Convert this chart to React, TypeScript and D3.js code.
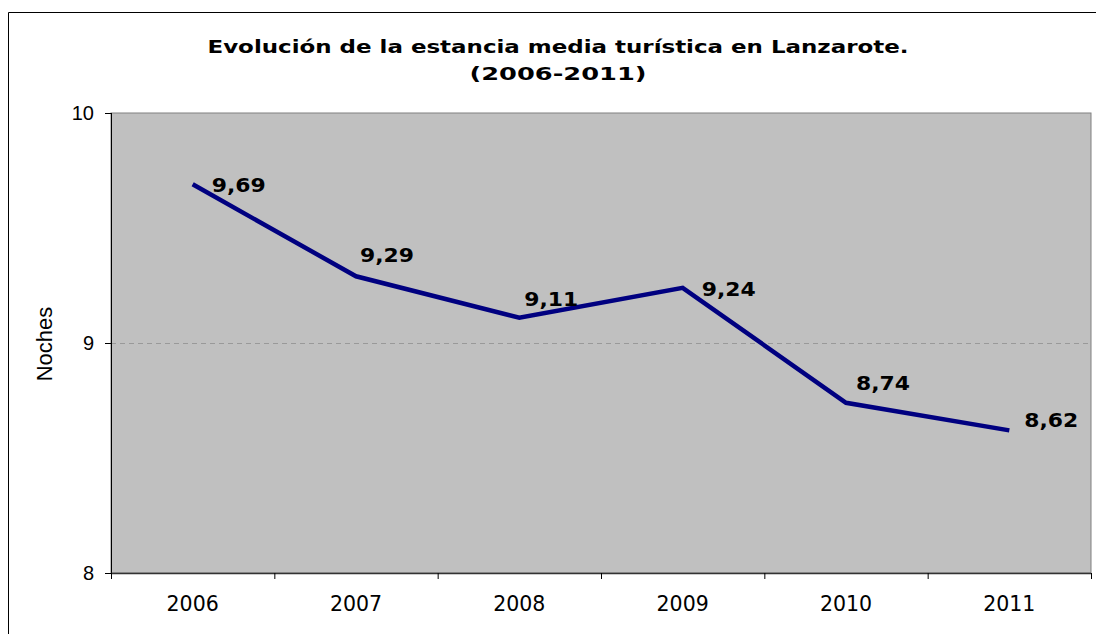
import React from "react";
import * as d3 from "d3";

const years = ["2006", "2007", "2008", "2009", "2010", "2011"];
const values = [9.69, 9.29, 9.11, 9.24, 8.74, 8.62];
const valueLabels = ["9,69", "9,29", "9,11", "9,24", "8,74", "8,62"];
const labelDx = [19, 4, 5, 19, 10, 15];
const labelDy = [8, -14, -12, 8, -13, -3];
const yTicks = [8, 9, 10];
const titleLines = ["Evolución de la estancia media turística en Lanzarote.", "(2006-2011)"];
const titleWidths = [701, 177];
const yTitle = "Noches";

export default function App() {
  const W = 1096, H = 634;
  const left = 111, right = 1091, top = 113, bottom = 573;
  const x = d3.scaleBand<string>().domain(years).range([left, right]).padding(0);
  const y = d3.scaleLinear().domain([8, 10]).range([bottom, top]);
  const cx = (yr: string) => (x(yr) as number) + x.bandwidth() / 2;
  const line = d3
    .line<number>()
    .x((_, i) => cx(years[i]))
    .y((v) => y(v));
  const boundaries = years.map((yr) => x(yr) as number).concat([right]);

  return (
    <svg
      width={W}
      height={H}
      style={{ position: "absolute", left: 0, top: 0, display: "block", background: "#fff" }}
    >
      <path d={`M8.5,${H} V12.5 H${W}`} fill="none" stroke="#000" strokeWidth={1} />
      {titleLines.map((t, i) => (
        <text
          key={i}
          x={558}
          y={53 + i * 27}
          textAnchor="middle"
          fontFamily="DejaVu Sans"
          fontWeight="bold"
          fontSize={18.5}
          textLength={titleWidths[i]}
          lengthAdjust="spacingAndGlyphs"
          fill="#000"
        >
          {t}
        </text>
      ))}
      <rect x={left} y={top} width={right - left} height={bottom - top} fill="#C0C0C0" stroke="#808080" strokeWidth={1} />
      {yTicks
        .filter((t) => t !== 8 && t !== 10)
        .map((t) => (
          <line
            key={t}
            x1={left}
            x2={right}
            y1={y(t) + 0.5}
            y2={y(t) + 0.5}
            stroke="#999"
            strokeWidth={1}
            strokeDasharray="5,4"
          />
        ))}
      <line x1={left + 0.5} x2={left + 0.5} y1={top} y2={bottom} stroke="#000" strokeWidth={1} />
      <line x1={left} x2={right} y1={bottom + 0.5} y2={bottom + 0.5} stroke="#333" strokeWidth={1.5} />
      {yTicks.map((t) => (
        <g key={t}>
          <line x1={left - 6} x2={left} y1={y(t) + 0.5} y2={y(t) + 0.5} stroke="#000" />
          <text
            x={left - 17}
            y={y(t) + 7}
            textAnchor="end"
            fontFamily="Liberation Sans"
            fontSize={20}
            fill="#000"
          >
            {t}
          </text>
        </g>
      ))}
      {boundaries.map((b, i) => (
        <line key={i} x1={b + 0.5} x2={b + 0.5} y1={bottom} y2={bottom + 6} stroke="#000" />
      ))}
      {years.map((yr) => (
        <text
          key={yr}
          x={cx(yr)}
          y={611}
          textAnchor="middle"
          fontFamily="DejaVu Sans"
          fontSize={20.5}
          fill="#000"
        >
          {yr}
        </text>
      ))}
      <text
        transform={`translate(52,${(top + bottom) / 2 + 1}) rotate(-90)`}
        textAnchor="middle"
        fontFamily="Liberation Sans"
        fontSize={22}
        fill="#000"
      >
        {yTitle}
      </text>
      <path d={line(values) || ""} fill="none" stroke="#000080" strokeWidth={4.5} strokeLinejoin="miter" />
      {values.map((v, i) => (
        <text
          key={i}
          x={cx(years[i]) + labelDx[i]}
          y={y(v) + labelDy[i]}
          fontFamily="DejaVu Sans"
          fontWeight="bold"
          fontSize={20}
          textLength={54}
          lengthAdjust="spacingAndGlyphs"
          fill="#000"
        >
          {valueLabels[i]}
        </text>
      ))}
    </svg>
  );
}
